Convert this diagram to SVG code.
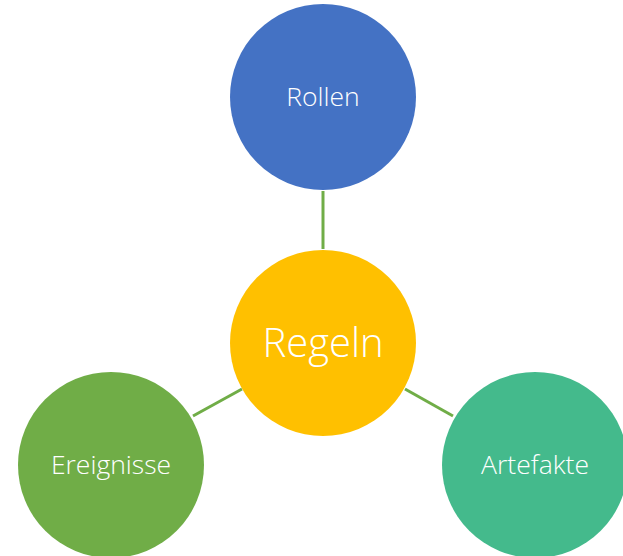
<svg xmlns="http://www.w3.org/2000/svg" width="623" height="556" viewBox="0 0 623 556">
<style>
.lbl{font-family:"Open Sans","Segoe UI","Liberation Sans",sans-serif;font-weight:300;fill:#ffffff;text-anchor:middle;dominant-baseline:central}
.s{font-size:26.5px}
.b{font-size:40px}
.con{stroke:#70AD47;stroke-width:3;fill:none}
</style>
<rect width="623" height="556" fill="#ffffff"/>
<g id="connectors">
<line class="con" x1="323" y1="191" x2="323" y2="249"/>
<line class="con" x1="193" y1="416" x2="242" y2="389"/>
<line class="con" x1="405" y1="389" x2="453" y2="416"/>
</g>
<g id="rollen"><circle cx="323" cy="97" r="93" fill="#4472C4"/><text class="lbl s" x="323" y="96">Rollen</text></g>
<g id="regeln"><circle cx="323" cy="343" r="93" fill="#FFC000"/><text class="lbl b" x="323" y="341">Regeln</text></g>
<g id="ereignisse"><circle cx="111" cy="465" r="93" fill="#70AD47"/><text class="lbl s" x="111" y="464">Ereignisse</text></g>
<g id="artefakte"><circle cx="535" cy="465" r="93" fill="#44BA8C"/><text class="lbl s" x="535" y="464">Artefakte</text></g>
</svg>
